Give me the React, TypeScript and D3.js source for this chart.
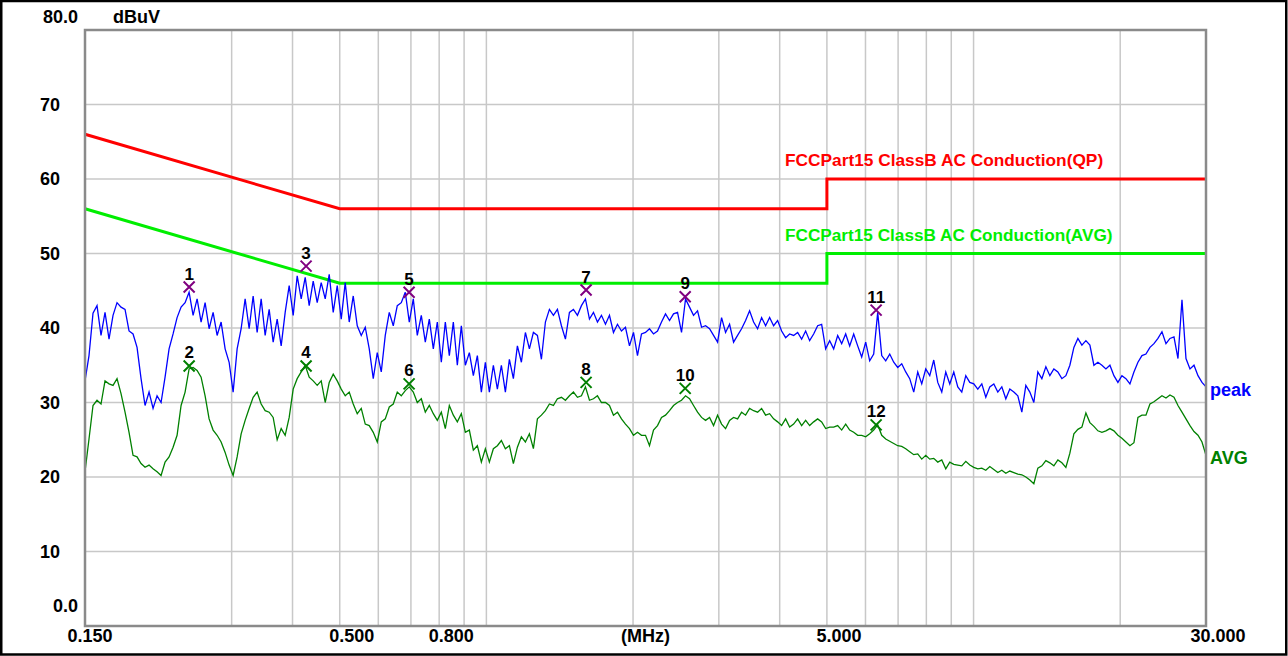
import React from 'react';
import * as d3 from 'd3';

// ---- data ----
const sweepStartMHz = 0.15;
const sweepStopMHz = 30;

const peakValues = [
  32.9, 36.3, 42.0, 43.0, 39.0, 42.1, 38.5, 41.7, 43.4, 42.8,
  42.5, 39.6, 39.2, 37.4, 33.2, 29.6, 31.4, 29.2, 30.9, 30.0,
  33.4, 37.2, 39.2, 41.4, 42.8, 43.4, 44.8, 41.7, 43.9, 40.8,
  43.4, 39.9, 42.1, 39.0, 40.8, 37.2, 35.4, 31.4, 37.2, 39.9,
  43.9, 39.9, 44.3, 39.4, 43.9, 39.0, 42.5, 38.1, 41.2, 37.6,
  42.1, 45.7, 41.7, 47.0, 43.9, 46.8, 43.0, 46.3, 43.4, 46.1,
  43.9, 47.2, 42.1, 45.7, 41.2, 46.1, 40.8, 44.3, 40.3, 39.0,
  40.1, 37.2, 33.2, 36.7, 34.1, 39.0, 42.1, 40.3, 43.0, 43.4,
  44.8, 40.8, 43.9, 39.0, 41.7, 38.1, 41.2, 37.2, 40.8, 35.4,
  40.8, 36.3, 40.8, 35.0, 40.3, 35.0, 36.7, 33.6, 36.3, 31.4,
  35.4, 31.4, 35.0, 31.8, 35.0, 31.4, 35.8, 33.2, 37.6, 35.4,
  39.4, 37.2, 39.4, 39.0, 35.8, 40.8, 42.5, 41.7, 42.5, 40.3,
  38.5, 42.1, 42.5, 41.7, 43.0, 43.9, 41.2, 42.1, 40.8, 41.7,
  40.5, 41.7, 39.4, 40.5, 39.6, 40.1, 37.6, 39.4, 36.3, 39.2,
  39.4, 39.9, 39.2, 39.6, 40.8, 41.9, 41.0, 41.9, 42.1, 39.4,
  43.9, 42.8, 41.7, 42.3, 40.1, 40.3, 39.9, 39.0, 38.1, 41.4,
  39.4, 40.5, 38.1, 39.0, 39.9, 41.0, 42.3, 40.8, 39.9, 41.4,
  40.3, 41.4, 40.3, 41.0, 39.6, 38.7, 39.2, 39.0, 39.4, 38.5,
  39.6, 38.3, 39.2, 40.3, 40.5, 37.2, 38.3, 37.2, 39.0, 37.9,
  39.2, 37.6, 39.2, 37.6, 36.1, 38.1, 35.6, 36.5, 42.1, 36.3,
  35.6, 36.5, 35.4, 34.7, 35.2, 34.1, 33.2, 31.4, 34.1, 32.5,
  34.5, 33.6, 35.7, 32.7, 31.4, 34.1, 32.5, 34.1, 32.1, 31.4,
  33.6, 32.7, 32.5, 31.8, 32.5, 30.7, 32.1, 32.5, 31.4, 32.1,
  30.5, 31.8, 31.4, 30.9, 28.7, 32.3, 31.4, 30.0, 34.1, 33.2,
  34.8, 33.6, 34.5, 34.1, 33.2, 33.6, 35.0, 37.4, 38.6, 37.7,
  38.3, 37.7, 35.0, 35.4, 35.0, 34.5, 35.0, 33.6, 32.7, 33.6,
  33.2, 32.5, 34.1, 35.4, 36.3, 36.5, 37.4, 37.9, 38.6, 39.5,
  37.9, 38.6, 38.8, 35.9, 43.8, 35.9, 34.5, 35.0, 33.6, 32.7, 32.1,
];

const avgValues = [
  20.7, 25.1, 29.6, 30.3, 29.8, 32.9, 32.5, 32.3, 33.2, 31.2,
  28.7, 26.0, 22.9, 22.7, 21.8, 21.3, 21.6, 21.1, 20.7, 20.2,
  22.0, 22.7, 24.0, 25.6, 29.6, 31.4, 34.5, 34.7, 34.3, 33.4,
  30.9, 27.8, 26.3, 25.6, 24.7, 23.3, 21.6, 20.2, 22.7, 25.8,
  27.6, 29.2, 30.7, 31.4, 29.8, 28.9, 28.7, 28.0, 25.0, 26.5,
  25.6, 28.0, 31.8, 33.2, 34.1, 35.0, 33.4, 32.9, 32.3, 32.9,
  30.0, 32.7, 33.8, 32.9, 31.8, 30.9, 31.4, 29.8, 28.5, 29.2,
  27.1, 26.9, 26.0, 24.7, 27.4, 27.8, 29.4, 29.8, 31.4, 30.9,
  31.6, 32.1, 31.4, 30.0, 30.5, 28.7, 29.6, 28.5, 27.6, 28.7,
  26.5, 29.6, 28.3, 27.4, 28.5, 26.0, 26.3, 23.6, 24.2, 22.0,
  23.8, 22.0, 23.8, 24.2, 24.9, 23.8, 24.2, 21.8, 24.0, 25.4,
  24.7, 25.8, 23.8, 27.8, 28.3, 28.9, 29.8, 29.6, 30.5, 30.7,
  30.3, 30.9, 31.4, 30.7, 30.9, 32.1, 30.3, 30.5, 30.9, 30.0,
  30.0, 29.6, 28.3, 28.7, 27.8, 27.1, 26.5, 25.6, 26.0, 25.6,
  25.6, 24.2, 26.3, 26.9, 28.0, 28.3, 28.9, 29.6, 30.0, 30.3,
  30.9, 30.5, 29.6, 28.7, 28.0, 27.6, 28.0, 26.9, 28.3, 27.1,
  26.5, 27.6, 28.0, 27.8, 28.7, 28.3, 29.2, 28.9, 28.7, 29.2,
  28.3, 28.5, 27.8, 27.4, 26.9, 27.8, 26.7, 27.1, 27.8, 26.9,
  27.6, 26.9, 27.4, 27.8, 27.4, 26.5, 26.7, 26.7, 26.9, 26.3,
  27.1, 26.3, 26.0, 25.6, 25.6, 25.4, 25.8, 26.3, 27.0, 25.6,
  25.1, 24.8, 24.5, 24.2, 24.1, 23.8, 23.4, 23.0, 23.1, 22.4,
  22.9, 22.4, 22.5, 22.0, 22.3, 21.1, 22.0, 21.7, 21.6, 21.5,
  22.1, 21.6, 21.3, 21.1, 21.2, 20.9, 21.4, 21.0, 20.6, 20.9,
  20.5, 20.8, 20.6, 20.4, 20.3, 20.0, 19.6, 19.1, 21.2, 21.5,
  22.2, 21.9, 21.5, 22.3, 21.9, 21.3, 23.2, 25.8, 26.4, 26.7,
  28.6, 27.3, 26.8, 26.2, 26.0, 26.2, 26.5, 26.2, 25.6, 25.2,
  24.7, 24.2, 24.6, 28.0, 28.3, 28.3, 29.8, 30.1, 30.5, 30.9,
  30.6, 31.0, 30.7, 29.6, 28.7, 27.8, 26.9, 26.1, 25.6, 24.7, 22.9,
];

const qpLimitFreq = [0.15, 0.5, 5, 5, 30];
const qpLimitDb = [66, 56, 56, 60, 60];
const avgLimitFreq = [0.15, 0.5, 5, 5, 30];
const avgLimitDb = [56, 46, 46, 50, 50];
const qpLimitName = 'FCCPart15 ClassB AC Conduction(QP)';
const avgLimitName = 'FCCPart15 ClassB AC Conduction(AVG)';

const markerNo = [1, 2, 3, 4, 5, 6, 7, 8, 9, 10, 11, 12];
const markerFreq = [0.2454, 0.2454, 0.4265, 0.4265, 0.694, 0.694, 1.602, 1.602, 2.559, 2.559, 6.31, 6.31];
const markerDb = [45.5, 34.9, 48.3, 34.9, 44.8, 32.5, 45.1, 32.7, 44.2, 31.9, 42.4, 27.0];
const markerDetector = ['peak', 'avg', 'peak', 'avg', 'peak', 'avg', 'peak', 'avg', 'peak', 'avg', 'peak', 'avg'];

const yTicks = [0, 10, 20, 30, 40, 50, 60, 70, 80];
const yTickLabels = ['0.0', '10', '20', '30', '40', '50', '60', '70', '80.0'];
const xGridFreq = [0.3, 0.4, 0.5, 0.6, 0.7, 0.8, 0.9, 1, 2, 3, 4, 5, 6, 7, 8, 9, 10, 20];
const xLabelFreq = [0.15, 0.5, 0.8, 5, 30];
const xLabelText = ['0.150', '0.500', '0.800', '5.000', '30.000'];

// ---- layout ----
const W = 1288;
const H = 656;
const L = 85;
const R = 1206;
const T = 30;
const B = 626;
const FONT = '"Liberation Sans", Arial, sans-serif';

const PEAK_COLOR = '#0000ff';
const AVG_COLOR = '#008000';
const QP_LIMIT_COLOR = '#ff0000';
const AVG_LIMIT_COLOR = '#00ee00';
const MARK_PEAK = '#800080';
const MARK_AVG = '#008000';

export default function App() {
  const x = d3.scaleLog().domain([sweepStartMHz, sweepStopMHz]).range([L, R]);
  const y = d3.scaleLinear().domain([0, 80]).range([B, T]);

  const n = peakValues.length;
  const sweepFreq = peakValues.map((_, i) =>
    sweepStartMHz * Math.pow(sweepStopMHz / sweepStartMHz, i / (n - 1))
  );

  const line = d3
    .line<[number, number]>()
    .x((d) => x(d[0]))
    .y((d) => y(d[1]));

  const peakPath = line(sweepFreq.map((f, i) => [f, peakValues[i]] as [number, number])) || '';
  const avgPath = line(sweepFreq.map((f, i) => [f, avgValues[i]] as [number, number])) || '';
  const qpPath = line(qpLimitFreq.map((f, i) => [f, qpLimitDb[i]] as [number, number])) || '';
  const avgLimPath = line(avgLimitFreq.map((f, i) => [f, avgLimitDb[i]] as [number, number])) || '';

  const lastPeakY = y(peakValues[n - 1]);
  const lastAvgY = y(avgValues[avgValues.length - 1]);

  return (
    <svg
      width={W}
      height={H}
      style={{ position: 'absolute', left: 0, top: 0, background: '#ffffff' }}
      fontFamily={FONT}
      fontWeight="bold"
    >
      <rect x={0} y={0} width={W} height={H} fill="#ffffff" />
      <rect x={1.25} y={1} width={W - 3} height={H - 2.5} fill="none" stroke="#000" strokeWidth={2.5} />

      {/* grid */}
      {xGridFreq.map((f) => (
        <line key={'gx' + f} x1={x(f)} x2={x(f)} y1={T} y2={B} stroke="#c8c8c8" strokeWidth={1.5} />
      ))}
      {yTicks
        .filter((t) => t > 0 && t < 80)
        .map((t) => (
          <line key={'gy' + t} x1={L} x2={R} y1={y(t)} y2={y(t)} stroke="#c8c8c8" strokeWidth={1.5} />
        ))}

      {/* limit lines */}
      <path d={qpPath} fill="none" stroke={QP_LIMIT_COLOR} strokeWidth={3} />
      <path d={avgLimPath} fill="none" stroke={AVG_LIMIT_COLOR} strokeWidth={3} />
      <text x={785} y={166} fontSize={17.3} fill={QP_LIMIT_COLOR}>
        {qpLimitName}
      </text>
      <text x={785} y={241} fontSize={17.2} fill={AVG_LIMIT_COLOR}>
        {avgLimitName}
      </text>

      {/* traces */}
      <path d={avgPath} fill="none" stroke={AVG_COLOR} strokeWidth={1.3} />
      <path d={peakPath} fill="none" stroke={PEAK_COLOR} strokeWidth={1.3} />

      {/* markers */}
      {markerNo.map((m, i) => {
        const cx = x(markerFreq[i]);
        const cy = y(markerDb[i]);
        const c = markerDetector[i] === 'peak' ? MARK_PEAK : MARK_AVG;
        const s = 5.5;
        return (
          <g key={'m' + m}>
            <path
              d={`M${cx - s},${cy - s}L${cx + s},${cy + s}M${cx + s},${cy - s}L${cx - s},${cy + s}`}
              stroke={c}
              strokeWidth={2}
              fill="none"
            />
            <text x={cx} y={cy - 7.5} fontSize={17} textAnchor="middle" fill="#000">
              {m}
            </text>
          </g>
        );
      })}

      {/* plot frame */}
      <rect x={L} y={T} width={R - L} height={B - T} fill="none" stroke="#8a8a8a" strokeWidth={2.5} />

      {/* y labels */}
      {yTicks.map((t, i) => {
        const lab = yTickLabels[i];
        const isDec = lab.includes('.');
        let ty = y(t);
        if (t === 80) ty = y(t) - 13;
        if (t === 0) ty = y(t) - 20;
        return (
          <text
            key={'yl' + t}
            x={isDec ? 78 : 60}
            y={ty}
            fontSize={18}
            textAnchor="end"
            dominantBaseline="central"
            fill="#000"
          >
            {lab}
          </text>
        );
      })}
      <text x={113} y={17} fontSize={18} dominantBaseline="central" fill="#000">
        dBuV
      </text>

      {/* x labels */}
      {xLabelFreq.map((f, i) => (
        <text
          key={'xl' + f}
          x={x(f) + (i === 0 ? 5 : 12)}
          y={642}
          fontSize={18}
          textAnchor="middle"
          fill="#000"
        >
          {xLabelText[i]}
        </text>
      ))}
      <text x={(L + R) / 2} y={642} fontSize={18} textAnchor="middle" fill="#000">
        (MHz)
      </text>

      {/* trace labels */}
      <text x={1210} y={lastPeakY + 3} fontSize={18} dominantBaseline="central" fill={PEAK_COLOR}>
        peak
      </text>
      <text x={1210} y={lastAvgY + 3} fontSize={18} dominantBaseline="central" fill={AVG_COLOR}>
        AVG
      </text>
    </svg>
  );
}
